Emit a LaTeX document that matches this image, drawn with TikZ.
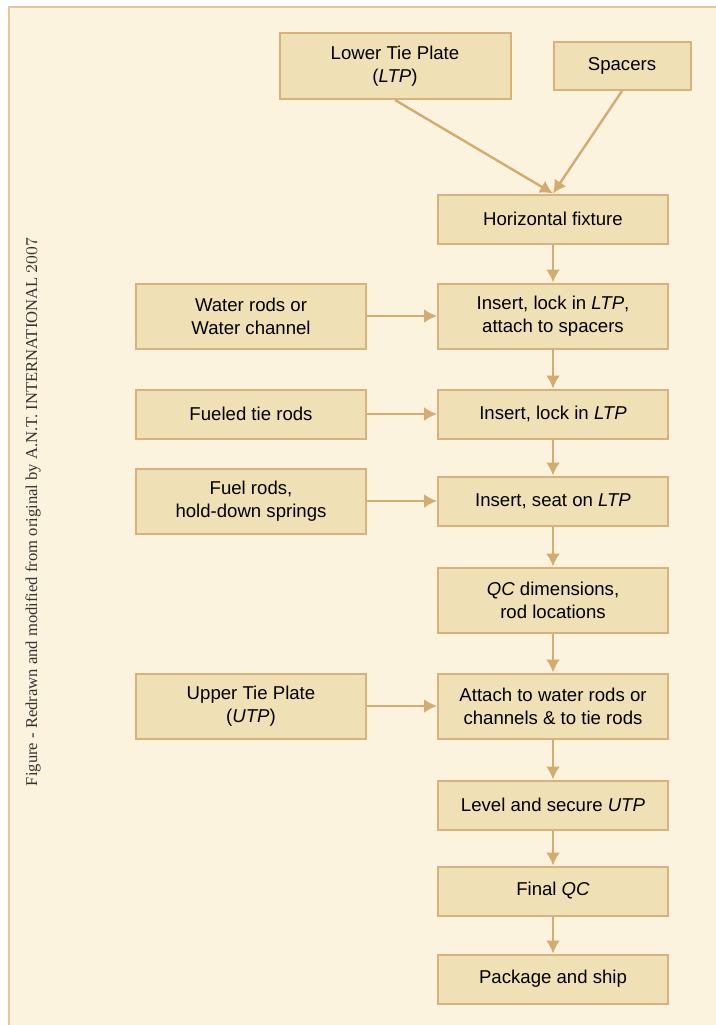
\documentclass[tikz,border=0pt]{standalone}
\usepackage{fontspec}
\newfontfamily\boxfont{Liberation Sans}
\newfontfamily\creditfont{Liberation Serif}
\usetikzlibrary{arrows.meta}
\definecolor{panelfill}{HTML}{FBF3DE}
\definecolor{panelline}{HTML}{E2C89C}
\definecolor{boxfill}{HTML}{EFE1B5}
\definecolor{boxline}{HTML}{D8B27A}
\definecolor{arrowc}{HTML}{D3AC70}
\tikzset{
  stepbox/.style={draw=boxline, fill=boxfill, line width=1pt, inner sep=0pt,
    minimum width=115pt, align=center, font=\boxfont\fontsize{9.3}{11.6}\selectfont},
  onel/.style={stepbox, minimum height=24.5pt},
  twol/.style={stepbox, minimum height=32.5pt},
  flow/.style={draw=arrowc, line width=1.2pt, -{Latex[length=6.5pt,width=7pt]}}
}
\begin{document}
\begin{tikzpicture}[x=0.5pt, y=-0.5pt]
  \useasboundingbox (0,0) rectangle (716,1025);
  % cream panel with a tan rule on its left and top edges
  \fill[panelfill] (9,7) rectangle (716,1025);
  \draw[panelline, line width=1pt] (9,1025) -- (9,7) -- (716,7);

  % credit line running up the left margin
  \node[rotate=90, font=\creditfont\fontsize{8.3}{10}\selectfont, text=black!80] (credit) at (33,512)
    {Figure - Redrawn and modified from original by A.N.T. INTERNATIONAL {\rmfamily\oldstylenums{2007}}};

  % input components
  \node[stepbox, minimum width=115.5pt, minimum height=33pt] (ltp) at (395,66) {Lower Tie Plate\\(\textit{LTP})};
  \node[stepbox, minimum width=68.5pt, minimum height=24pt] (sp) at (622,66) {Spacers};

  % main assembly sequence
  \node[onel] (hf)   at (553,219) {Horizontal fixture};
  \node[twol] (ins1) at (553,316) {Insert, lock in \textit{LTP},\\attach to spacers};
  \node[onel] (ins2) at (553,414) {Insert, lock in \textit{LTP}};
  \node[onel] (ins3) at (553,501) {Insert, seat on \textit{LTP}};
  \node[twol] (qc)   at (553,600) {\textit{QC} dimensions,\\rod locations};
  \node[twol] (att)  at (553,706) {Attach to water rods or\\channels \& to tie rods};
  \node[onel] (lev)  at (553,805) {Level and secure \textit{UTP}};
  \node[onel] (fqc)  at (553,891) {Final \textit{QC}};
  \node[onel] (pkg)  at (553,979) {Package and ship};

  % parts fed in from the left
  \node[twol] (wr)  at (251,316) {Water rods or\\Water channel};
  \node[onel] (ftr) at (251,414) {Fueled tie rods};
  \node[twol] (fr)  at (251,501) {Fuel rods,\\hold-down springs};
  \node[twol] (utp) at (251,706) {Upper Tie Plate\\(\textit{UTP})};

  % connectors
  \draw[flow] (ltp.south) -- (hf.north);
  \draw[flow] (sp.south) -- (hf.north);
  \draw[flow] (hf) -- (ins1);
  \draw[flow] (ins1) -- (ins2);
  \draw[flow] (ins2) -- (ins3);
  \draw[flow] (ins3) -- (qc);
  \draw[flow] (qc) -- (att);
  \draw[flow] (att) -- (lev);
  \draw[flow] (lev) -- (fqc);
  \draw[flow] (fqc) -- (pkg);
  \draw[flow] (wr) -- (ins1);
  \draw[flow] (ftr) -- (ins2);
  \draw[flow] (fr) -- (ins3);
  \draw[flow] (utp) -- (att);
\end{tikzpicture}
\end{document}
